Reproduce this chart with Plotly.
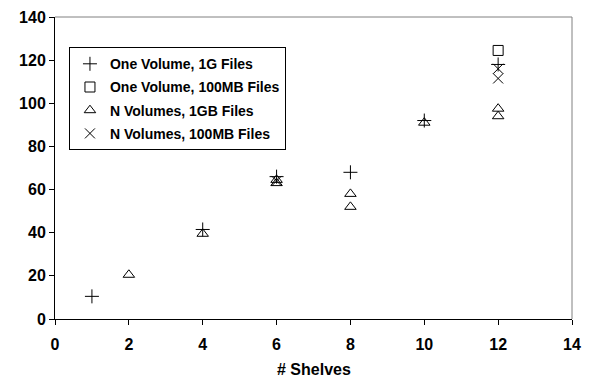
import plotly.graph_objects as go

# Data
one_1g_x = [1, 4, 6, 8, 10, 12]
one_1g_y = [10.5, 41.5, 66, 68, 92, 118]

one_100mb_x = [12]
one_100mb_y = [124.5]

n_1gb_x = [2, 4, 6, 6, 8, 8, 10, 12, 12]
n_1gb_y = [20.5, 39.5, 63, 64.5, 58, 52, 91, 97.5, 94]

n_100mb_x = [6, 12, 12]
n_100mb_y = [64, 116, 111.5]

names = ["One Volume, 1G Files", "One Volume, 100MB Files",
         "N Volumes, 1GB Files", "N Volumes, 100MB Files"]
symbols = ["cross-thin-open", "square-open", "triangle-up-open", "x-thin-open"]
sizes = [10, 10, 10, 10]
xs = [one_1g_x, one_100mb_x, n_1gb_x, n_100mb_x]
ys = [one_1g_y, one_100mb_y, n_1gb_y, n_100mb_y]

x_ticks = [0, 2, 4, 6, 8, 10, 12, 14]
y_ticks = [0, 20, 40, 60, 80, 100, 120, 140]
x_title = "# Shelves"

FONT = "Liberation Sans, Arial, sans-serif"

fig = go.Figure()
for i in range(4):
    fig.add_trace(go.Scatter(
        x=xs[i], y=ys[i], mode="markers", name=names[i],
        legendgroup="g%d" % i,
        marker=dict(symbol=symbols[i], size=sizes[i], color="black",
                    line=dict(color="black", width=1)),
    ))

fig.update_layout(
    width=592, height=382,
    margin=dict(l=55, r=20, t=17, b=63),
    paper_bgcolor="white", plot_bgcolor="white",
    font=dict(family=FONT, color="black"),
    showlegend=True,
    legend=dict(x=0.027, y=0.9, xanchor="left", yanchor="top",
                bordercolor="black", borderwidth=1, bgcolor="white",
                font=dict(family=FONT, size=14, color="black", weight="bold"),
                tracegroupgap=2, itemwidth=30),
    xaxis=dict(range=[0, 14], tickvals=x_ticks, showgrid=False, zeroline=False,
               showline=True, linecolor="black", linewidth=1,
               ticks="outside", ticklen=5, tickcolor="black",
               ticklabelstandoff=6, automargin=False,
               tickfont=dict(family=FONT, size=16, weight="bold")),
    yaxis=dict(range=[0, 140], tickvals=y_ticks, showgrid=False, zeroline=False,
               showline=True, linecolor="black", linewidth=1,
               ticks="outside", ticklen=5, tickcolor="black", automargin=False,
               tickfont=dict(family=FONT, size=16, weight="bold")),
    annotations=[
        dict(text=x_title, xref="paper", yref="paper", x=0.5, y=0,
             xanchor="center", yanchor="top", yshift=-40, showarrow=False,
             font=dict(family=FONT, size=16, weight="bold", color="black")),
    ],
    shapes=[
        dict(type="line", xref="paper", yref="paper", x0=0, x1=1, y0=1, y1=1,
             line=dict(color="#808080", width=1)),
        dict(type="line", xref="paper", yref="paper", x0=1, x1=1, y0=0, y1=1,
             line=dict(color="#808080", width=1)),
    ],
)

fig.write_html("out.html")
